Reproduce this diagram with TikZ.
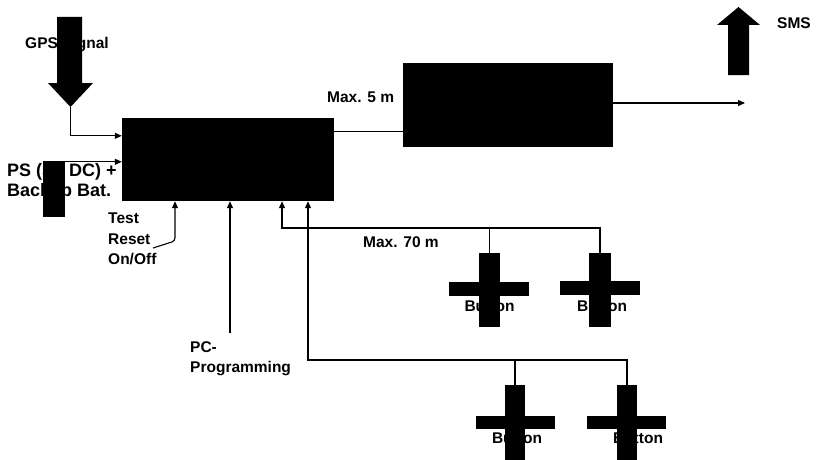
\documentclass[tikz,border=0pt]{standalone}
\usepackage{fontspec}
\setmainfont{Liberation Sans}
\usetikzlibrary{arrows.meta,calc}
\begin{document}
\begin{tikzpicture}[x=1pt,y=-1pt,
  lbl/.style={font=\bfseries\fontsize{15.5}{20.5}\selectfont, inner sep=0pt, anchor=west},
  biglbl/.style={lbl, font=\bfseries\fontsize{18}{20}\selectfont},
  mlbl/.style={lbl, align=left, anchor=north west},
  btn/.style={lbl, anchor=center},
  blk/.style={fill=black, draw=none, inner sep=0pt},
  wire/.style={line width=1.1pt},
  arr/.style={wire, -{Triangle[length=7pt,width=6pt]}},
]
\useasboundingbox (0,0) rectangle (816,460);

% ---- texts (drawn first: some are partly covered) ----
\node[lbl] (gpst) at (25,45) {GPS Signal};
\node[lbl] (max5) at (327,97) {Max. 5 m};
\node[lbl] (smst) at (777,23) {SMS};
\node[biglbl] (ps1) at (7,172) {PS (5V DC) +};
\node[biglbl] (ps2) at (7,192) {Backup Bat.};
\node[mlbl] (ctrl) at (108,213) {Test\\Reset\\On/Off};
\node[mlbl] (pct) at (190,341) {PC-\\Programming};
\node[lbl] (max70) at (363,242) {Max. 70 m};
\node[btn] (b1t) at (489.5,306) {Button};
\node[btn] (b2t) at (602,306) {Button};
\node[btn] (b3t) at (517,438) {Button};
\node[btn] (b4t) at (638,438) {Button};

% ---- blocks ----
\node[blk, minimum width=212, minimum height=83] (main) at (228,159.5) {};
\node[blk, minimum width=210, minimum height=84] (rbox) at (508,105) {};
\node[blk, minimum width=22, minimum height=55] (psblk) at (54,189.5) {};

% big arrows
\fill (57,17) -- (82,17) -- (82,83) -- (93,83) -- (70.5,107) -- (48,83) -- (57,83) -- cycle;
\coordinate (gpstip) at (70.5,107);
\fill (728,75) -- (728,25) -- (717,25) -- (738.5,7) -- (760,25) -- (749,25) -- (749,75) -- cycle;

% buttons (crosses)
\node[blk, minimum width=21, minimum height=74] (u1bar) at (489.5,290) {};
\node[blk, minimum width=80, minimum height=14] (u1h) at (489,289) {};
\node[blk, minimum width=22, minimum height=74] (u2bar) at (600,290) {};
\node[blk, minimum width=80, minimum height=14] (u2h) at (600,288) {};
\node[blk, minimum width=20, minimum height=76] (l1bar) at (515,423) {};
\node[blk, minimum width=79, minimum height=13] (l1h) at (515.5,422.5) {};
\node[blk, minimum width=20, minimum height=76] (l2bar) at (627,423) {};
\node[blk, minimum width=79, minimum height=13] (l2h) at (626,422.5) {};

% ---- connectors ----
\draw[arr] (gpstip) |- ($(main.north west)+(0,18)$);
\draw[arr] (psblk.north west) -- (main.west |- psblk.north west);
\coordinate (ctrlc) at (153,248);
\draw[arr, rounded corners=3pt] (ctrlc) -- (175,241) -- (main.south -| 175,0);
\coordinate (pcs) at (230,333);
\draw[arr] (pcs) -- (main.south -| pcs);
\coordinate (j1) at (282,228);
\coordinate (j2) at (308,360);
\draw[arr] (u2bar.north) |- (j1) -- (main.south -| j1);
\draw[wire] (u1bar.north) -- (u1bar.north |- j1);
\draw[arr] (l2bar.north) |- (j2) -- (main.south -| j2);
\draw[wire] (l1bar.north) -- (l1bar.north |- j2);
\coordinate (m5) at ($(main.north east)+(0,14)$);
\draw[wire] (m5) -- (rbox.west |- m5);
\coordinate (outend) at (745,103);
\draw[arr] (rbox.east |- outend) -- (outend);
\end{tikzpicture}
\end{document}
